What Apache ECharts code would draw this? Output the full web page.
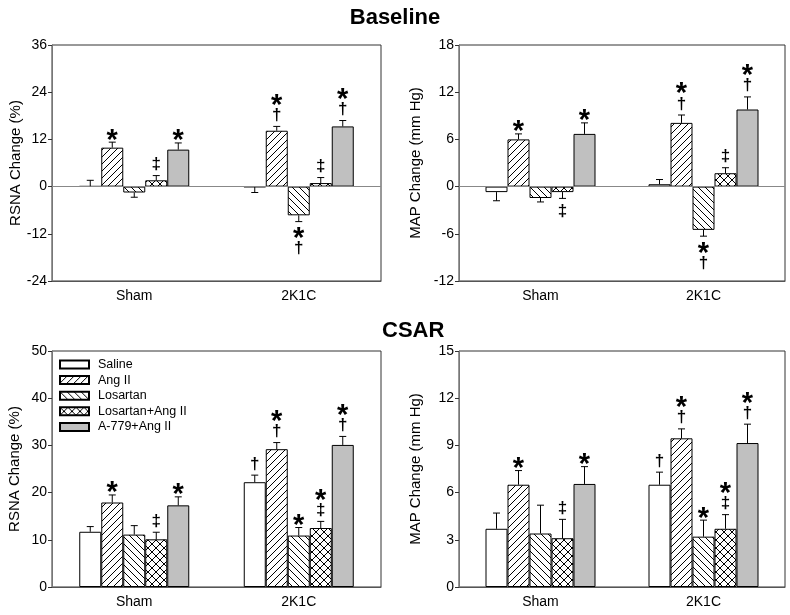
<!DOCTYPE html>
<html>
<head>
<meta charset="utf-8">
<script src="https://cdn.jsdelivr.net/npm/echarts@6/dist/echarts.min.js"></script>
<style>
  html, body { margin: 0; padding: 0; background: #fff; }
  #chart { width: 790px; height: 615px; }
</style>
</head>
<body>
<div id="chart"></div>
<script>
// categories and treatment groups
const categories = ['Sham', '2K1C']
const groups = ['Saline', 'Ang II', 'Losartan', 'Losartan+Ang II', 'A-779+Ang II']

// Baseline RSNA (%) : rows = Sham, 2K1C ; cols = groups
const rsnaBaseMean = [[0.1, 9.9, -1.5, 1.6, 9.4], [-0.1, 14.2, -7.3, 0.9, 15.3]]
const rsnaBaseErr = [[1.5, 1.4, 1.2, 1.2, 1.7], [1.4, 1.1, 1.6, 1.4, 1.5]]
const rsnaBaseSig = [['', '*', '', '‡', '*'], ['', '*†', '*†', '‡', '*†']]

// Baseline MAP (mm Hg)
const mapBaseMean = [[-0.7, 6.0, -1.45, -0.7, 6.7], [0.3, 8.1, -5.5, 1.7, 9.8]]
const mapBaseErr = [[1.1, 0.7, 0.5, 0.8, 1.4], [0.6, 1.0, 0.8, 0.7, 1.6]]
const mapBaseSig = [['', '*', '', '‡', '*'], ['', '*†', '*†', '‡', '*†']]

// CSAR RSNA (%)
const rsnaCsarMean = [[11.7, 17.9, 11.1, 10.1, 17.3], [22.2, 29.2, 10.9, 12.5, 30.1]]
const rsnaCsarErr = [[1.1, 1.6, 1.9, 1.5, 1.8], [1.5, 1.4, 1.7, 1.4, 1.8]]
const rsnaCsarSig = [['', '*', '', '‡', '*'], ['†', '*†', '*', '*‡', '*†']]

// CSAR MAP (mm Hg)
const mapCsarMean = [[3.7, 6.5, 3.4, 3.1, 6.55], [6.5, 9.45, 3.2, 3.7, 9.15]]
const mapCsarErr = [[1.0, 0.9, 1.8, 1.2, 1.1], [0.8, 0.6, 1.05, 0.9, 1.2]]
const mapCsarSig = [['', '*', '', '‡', '*'], ['†', '*†', '*', '*‡', '*†']]

// y axis ranges [min, max, interval]
const rsnaBaseTicks = [-24, 36, 12]
const mapBaseTicks = [-12, 18, 6]
const rsnaCsarTicks = [0, 50, 10]
const mapCsarTicks = [0, 15, 3]

const FONT = '"Liberation Sans", Arial, sans-serif'
const BW = 22

// hatch fills drawn on a small canvas
function hatch(kind, s) {
  const c = document.createElement('canvas')
  c.width = s
  c.height = s
  const ctx = c.getContext('2d')
  ctx.fillStyle = '#fff'
  ctx.fillRect(0, 0, s, s)
  ctx.strokeStyle = '#000'
  ctx.lineWidth = 1
  const segs = []
  if (kind === '/' || kind === 'x') {
    segs.push([-1, s + 1, s + 1, -1], [-1, 1, 1, -1], [s - 1, s + 1, s + 1, s - 1])
  }
  if (kind === '\\' || kind === 'x') {
    segs.push([-1, -1, s + 1, s + 1], [-1, s - 1, 1, s + 1], [s - 1, -1, s + 1, 1])
  }
  ctx.beginPath()
  segs.forEach(p => {
    ctx.moveTo(p[0], p[1])
    ctx.lineTo(p[2], p[3])
  })
  ctx.stroke()
  return { image: c, repeat: 'repeat' }
}

const fills = ['#fff', hatch('/', 7), hatch('\\', 7), hatch('x', 8), '#c0c0c0']

// marker glyph sizes (visual height, vertical offset of glyph centre)
const GLYPH = {
  '*': { fs: 29, h: 10, off: 0.22 },
  '†': { fs: 17, h: 15, off: -0.04 },
  '‡': { fs: 17, h: 15, off: -0.04 }
}

function errRender(sig) {
  return function (params, api) {
    const c = api.value(0), g = api.value(1)
    const m = api.value(2), e = api.value(3)
    const dir = m < 0 ? -1 : 1
    const x = api.coord([c, 0])[0] + (g - 2) * BW
    const y0 = api.coord([c, m])[1]
    const y1 = api.coord([c, m + dir * e])[1]
    const ls = { stroke: '#000', lineWidth: 1 }
    const children = [
      { type: 'line', shape: { x1: x, y1: y0, x2: x, y2: y1 }, style: ls },
      { type: 'line', shape: { x1: x - 3.5, y1: y1, x2: x + 3.5, y2: y1 }, style: ls }
    ]
    const chars = [...(sig[c][g] || '')]
    if (dir > 0) {
      let yb = y1 - 3
      chars.reverse().forEach(ch => {
        const gl = GLYPH[ch]
        const cy = yb - gl.h / 2
        children.push(textEl(ch, x, cy + gl.off * gl.fs, gl.fs))
        yb -= gl.h + 4
      })
    } else {
      let yt = y1 + 6
      chars.forEach(ch => {
        const gl = GLYPH[ch]
        const cy = yt + gl.h / 2
        children.push(textEl(ch, x, cy + gl.off * gl.fs, gl.fs))
        yt += gl.h + 4
      })
    }
    return { type: 'group', children }
  }
}

function textEl(t, x, y, fs) {
  return {
    type: 'text', x, y,
    style: { text: t, fontSize: fs, fontWeight: 'bold', fontFamily: FONT, fill: '#000', align: 'center', verticalAlign: 'middle' }
  }
}

const panels = [
  { mean: rsnaBaseMean, err: rsnaBaseErr, sig: rsnaBaseSig, ticks: rsnaBaseTicks, name: 'RSNA Change (%)', zero: true, gap: 29 },
  { mean: mapBaseMean, err: mapBaseErr, sig: mapBaseSig, ticks: mapBaseTicks, name: 'MAP Change (mm Hg)', zero: true, gap: 36 },
  { mean: rsnaCsarMean, err: rsnaCsarErr, sig: rsnaCsarSig, ticks: rsnaCsarTicks, name: 'RSNA Change (%)', zero: false, gap: 30 },
  { mean: mapCsarMean, err: mapCsarErr, sig: mapCsarSig, ticks: mapCsarTicks, name: 'MAP Change (mm Hg)', zero: false, gap: 36 }
]

const grids = [
  { left: 52, top: 45, width: 329, height: 236 },
  { left: 459, top: 45, width: 326, height: 236 },
  { left: 52, top: 351, width: 329, height: 236 },
  { left: 459, top: 351, width: 326, height: 236 }
]

const xAxis = [], yAxis = [], series = []
panels.forEach((p, i) => {
  xAxis.push({
    type: 'category', gridIndex: i, data: categories, position: 'bottom',
    axisLine: { onZero: false, lineStyle: { color: '#555' } },
    axisTick: { alignWithLabel: true, length: 5, lineStyle: { color: '#333' } },
    axisLabel: { fontSize: 14, color: '#000', fontFamily: FONT, margin: 8 }
  })
  yAxis.push({
    type: 'value', gridIndex: i, min: p.ticks[0], max: p.ticks[1], interval: p.ticks[2],
    splitLine: { show: false },
    axisLine: { show: true, lineStyle: { color: '#777' } },
    axisTick: { show: true, length: 4, lineStyle: { color: '#333' } },
    axisLabel: { fontSize: 14, color: '#000', fontFamily: FONT, margin: 5 },
    name: p.name, nameLocation: 'middle', nameGap: p.gap,
    nameTextStyle: { fontSize: 15, color: '#000', fontFamily: FONT }
  })
  groups.forEach((g, k) => {
    const s = {
      type: 'bar', name: g, xAxisIndex: i, yAxisIndex: i,
      data: [p.mean[0][k], p.mean[1][k]],
      barWidth: BW, barGap: '0%',
      itemStyle: { color: fills[k], borderColor: '#000', borderWidth: 1 }
    }
    if (k === 0 && p.zero) {
      s.markLine = {
        silent: true, symbol: ['none', 'none'], label: { show: false },
        lineStyle: { color: '#888', type: 'solid', width: 1 },
        data: [{ yAxis: 0 }]
      }
    }
    series.push(s)
  })
  const eb = []
  p.mean.forEach((row, c) => row.forEach((m, k) => eb.push([c, k, m, p.err[c][k]])))
  series.push({
    type: 'custom', xAxisIndex: i, yAxisIndex: i, z: 5,
    renderItem: errRender(p.sig),
    encode: { x: 0, y: 2 },
    data: eb
  })
})

const chart = echarts.init(document.getElementById('chart'))
chart.setOption({
  animation: false,
  backgroundColor: '#fff',
  textStyle: { fontFamily: FONT },
  title: [
    { text: 'Baseline', left: 'center', top: 2, textStyle: { fontSize: 22, fontWeight: 'bold', color: '#000', fontFamily: FONT } },
    { text: 'CSAR', left: 377, top: 315, textStyle: { fontSize: 22, fontWeight: 'bold', color: '#000', fontFamily: FONT } }
  ],
  legend: {
    data: groups, orient: 'vertical', left: 59, top: 358,
    itemWidth: 29, itemHeight: 8, itemGap: 2.6, icon: 'rect',
    selectedMode: false, padding: 0,
    textStyle: { fontSize: 12.5, color: '#000', fontFamily: FONT, padding: [0, 0, 0, 4] }
  },
  grid: grids.map(g => Object.assign({ show: true, borderColor: '#333', borderWidth: 1, backgroundColor: 'transparent' }, g)),
  xAxis,
  yAxis,
  series
})
window.addEventListener('resize', chart.resize)
</script>
</body>
</html>
